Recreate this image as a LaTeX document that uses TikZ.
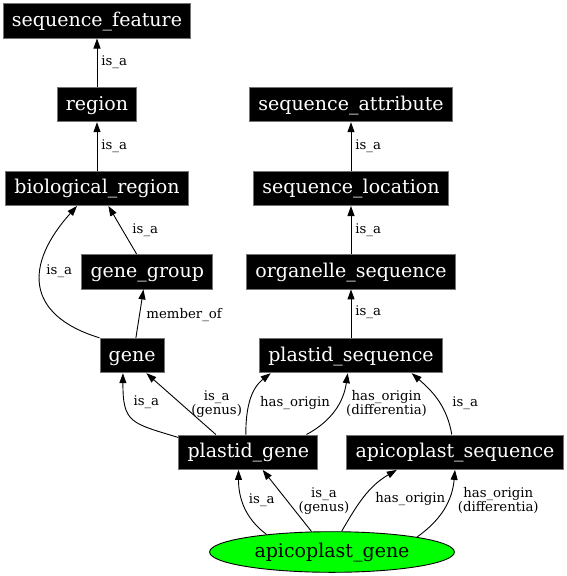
\documentclass[tikz,border=0pt]{standalone}
\usepackage{fontspec}
\setmainfont{DejaVu Serif}
\usetikzlibrary{positioning,arrows.meta,shapes.geometric}

\begin{document}
\begin{tikzpicture}[>={Triangle[length=10pt,width=7pt]},on grid,line width=0.9pt,
  term/.style={rectangle,fill=black,draw=black!55,text=white,font=\fontsize{19}{22}\selectfont,inner xsep=8.7pt,inner ysep=0pt,minimum height=34.5pt,text height=14.5pt,text depth=3.5pt},
  lbl/.style={font=\fontsize{13.3}{14}\selectfont,inner sep=0pt,anchor=west,align=center}]
	\useasboundingbox (0,0) rectangle (566pt,-576pt);
	\node[term] (sf) at (97pt,-20.8pt) {sequence\_feature};
	\node[term] (region) [below=83.7pt of sf] {region};
	\node[term] (bioreg) [below=83.8pt of region] {biological\_region};
	\node[term] (ggroup) [below right=83.4pt and 50.3pt of bioreg] {gene\_group};
	\node[term] (gene) [below left=83.8pt and 15.2pt of ggroup] {gene};
	\node[term] (sattr) [right=254pt of region] {sequence\_attribute};
	\node[term] (sloc) [below=83.8pt of sattr] {sequence\_location};
	\node[term] (oseq) [below=83.4pt of sloc] {organelle\_sequence};
	\node[term] (pseq) [below=83.8pt of oseq] {plastid\_sequence};
	\node[term] (pgene) [below left=96.7pt and 102.7pt of pseq] {plastid\_gene};
	\node[term] (aseq) [below right=96.7pt and 104pt of pseq] {apicoplast\_sequence};
	\node[ellipse,fill=green,draw=black,minimum width=244.8pt,minimum height=40.6pt,inner sep=0pt,
	  font=\fontsize{19}{22}\selectfont,text height=14.5pt,text depth=3.5pt] (agene) [below right=99.8pt and 83.7pt of pgene] {apicoplast\_gene};
	\path[->]
	(region) edge node[lbl,xshift=3.9pt] {is\_a} (sf)
	(bioreg) edge node[lbl,xshift=3.9pt] {is\_a} (region)
	([xshift=-10.7pt]ggroup.north) edge node[lbl,xshift=9.5pt] {is\_a} ([xshift=11.4pt]bioreg.south)
	(gene.north west) edge[out=163,in=228,looseness=1.5] node[lbl,pos=0.6,xshift=5.3pt] {is\_a} ([xshift=-20pt]bioreg.south)
	([xshift=3.8pt]gene.north) edge node[lbl,xshift=6.3pt,yshift=-1.3pt] {member\_of} ([xshift=-3.8pt]ggroup.south)
	(sloc) edge node[lbl,xshift=3.9pt] {is\_a} (sattr)
	(oseq) edge node[lbl,xshift=3.9pt] {is\_a} (sloc)
	(pseq) edge node[lbl,xshift=3.9pt,yshift=1.3pt] {is\_a} (oseq)
	([xshift=-32.5pt]pgene.north) edge node[lbl,xshift=9.7pt] {is\_a\\(genus)} ([xshift=14.3pt]gene.south)
	([yshift=-3pt]pgene.north west) edge[out=163,in=270,looseness=1.5] node[lbl,pos=0.75,xshift=8.2pt] {is\_a} ([xshift=-9.2pt]gene.south)
	([xshift=-2.5pt]pgene.north) edge[out=90,in=218] node[lbl,pos=0.45,xshift=10.1pt] {has\_origin} ([xshift=-80.3pt]pseq.south)
	([xshift=58.2pt]pgene.north) edge[out=28,in=262] node[lbl,pos=0.6,xshift=6.9pt] {has\_origin\\(differentia)} ([xshift=-3.3pt]pseq.south)
	([xshift=-3.2pt]aseq.north) edge[out=100,in=319] node[lbl,pos=0.45,xshift=12pt] {is\_a} ([xshift=60.7pt]pseq.south)
	(agene.165) edge[out=143,in=270] node[lbl,pos=0.6,xshift=6.5pt] {is\_a} ([xshift=-9.8pt]pgene.south)
	(agene.135) edge node[lbl,xshift=11.1pt] {is\_a\\(genus)} ([xshift=14.4pt]pgene.south)
	(agene.65) edge[out=60,in=210] node[lbl,pos=0.45,xshift=12.5pt] {has\_origin} ([xshift=-58.2pt]aseq.south)
	(agene.10) edge[out=35,in=265] node[lbl,pos=0.62,xshift=9.2pt] {has\_origin\\(differentia)} (aseq.south);
\end{tikzpicture}
\end{document}
